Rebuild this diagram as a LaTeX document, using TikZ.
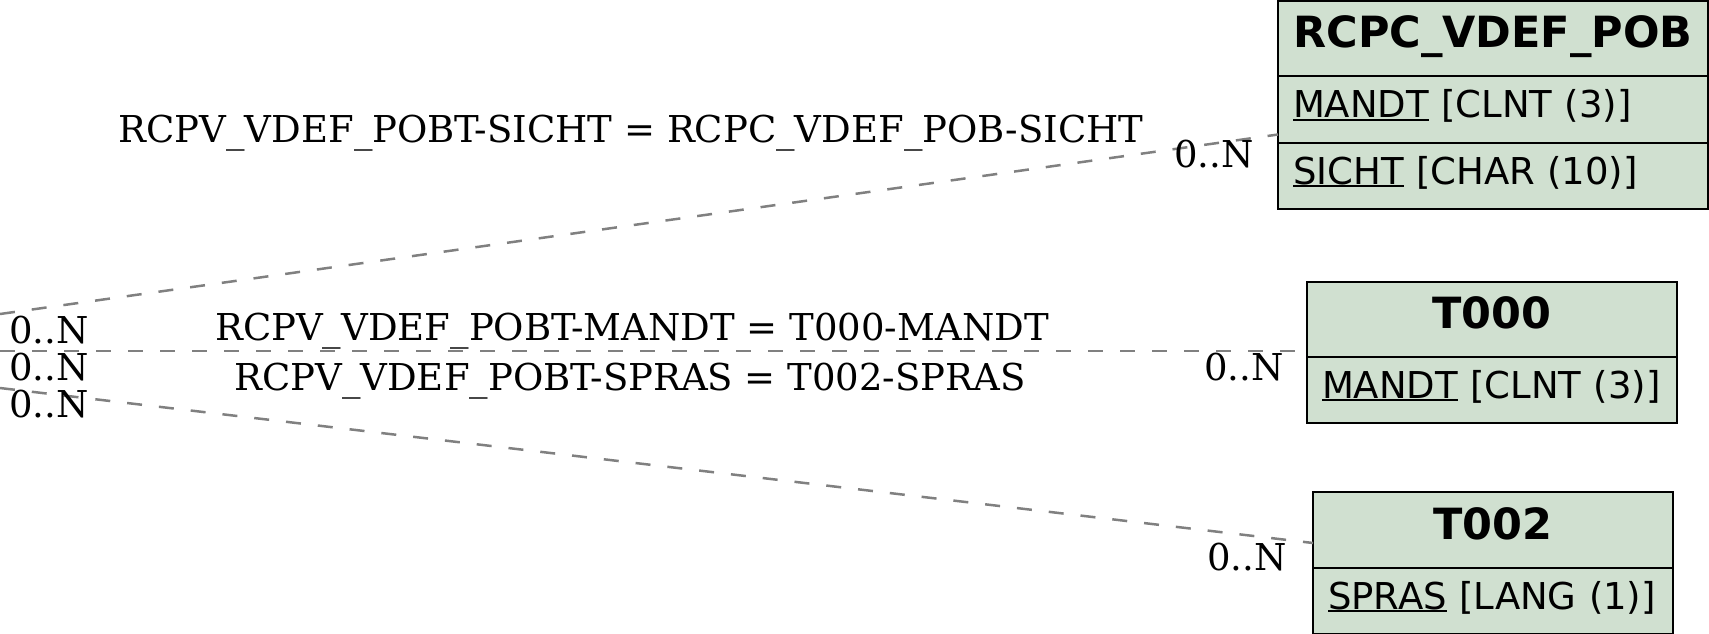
\documentclass[tikz,border=0pt]{standalone}
\usepackage{fontspec}
\newfontfamily\tblfont{DejaVu Sans}
\newfontfamily\relfont{DejaVu Serif}
\definecolor{tblGreen}{RGB}{208,224,208}
\definecolor{relGray}{RGB}{128,128,128}
\usetikzlibrary{positioning}
\newsavebox{\keybox}
\newcommand{\keyfield}[1]{\sbox{\keybox}{#1}\rlap{\rule[-3pt]{\wd\keybox}{2pt}}\usebox{\keybox}}

\begin{document}
\begin{tikzpicture}[x=1pt,y=-1pt,
    tblhead/.style={draw=black,line width=2.5pt,fill=tblGreen,inner sep=0pt,outer sep=0pt,
      font=\tblfont\fontsize{43}{50}\selectfont\bfseries,text height=24pt,text depth=6pt,
      minimum height=75pt,anchor=north west},
    tblrow/.style={draw=black,line width=2.5pt,fill=tblGreen,inner xsep=15pt,inner ysep=0pt,outer sep=0pt,
      font=\tblfont\fontsize{37}{44}\selectfont,text height=22pt,text depth=6pt,
      minimum height=66pt,align=left},
    rel/.style={draw=relGray,line width=2.5pt,dash pattern=on 15pt off 17pt},
    relname/.style={font=\relfont\fontsize{37}{44}\selectfont,inner sep=0pt,anchor=base},
    card/.style={font=\relfont\fontsize{37}{44}\selectfont,inner sep=0pt,anchor=base west}]
    \useasboundingbox (0,0) rectangle (1709,633);

    \node[tblhead,minimum width=430pt] (rcpcH) at (1278,1) {RCPC\_VDEF\_POB};
    \node[tblrow,text width=400pt,minimum height=67pt,below=0pt of rcpcH] (rcpcM) {\keyfield{MANDT} [CLNT (3)]};
    \node[tblrow,text width=400pt,below=0pt of rcpcM] (rcpcS) {\keyfield{SICHT} [CHAR (10)]};

    \node[tblhead,minimum width=370pt] (t000H) at (1307,282) {T000};
    \node[tblrow,text width=340pt,below=0pt of t000H] (t000M) {\keyfield{MANDT} [CLNT (3)]};

    \node[tblhead,minimum width=360pt,minimum height=76pt] (t002H) at (1313,492) {T002};
    \node[tblrow,text width=330pt,below=0pt of t002H] (t002S) {\keyfield{SPRAS} [LANG (1)]};

    \coordinate (pobtA) at (0,314);
    \coordinate (pobtB) at (0,351);
    \coordinate (pobtC) at (0,388);
    \coordinate (rcpcIn) at ([yshift=-25pt]rcpcM.west);
    \coordinate (t002In) at ([yshift=-13pt]t002H.west);

    \draw[rel] (pobtA) -- (rcpcIn);
    \draw[rel] (pobtB) -- (t000H.west |- pobtB);
    \draw[rel] (pobtC) -- (t002In);

    \node[relname] (sichtRel) at (631,142) {RCPV\_VDEF\_POBT-SICHT = RCPC\_VDEF\_POB-SICHT};
    \node[relname] (mandtRel) at (632,340) {RCPV\_VDEF\_POBT-MANDT = T000-MANDT};
    \node[relname] (sprasRel) at (630,390) {RCPV\_VDEF\_POBT-SPRAS = T002-SPRAS};

    \node[card] (cardA) at (9,343) {0..N};
    \node[card] (cardB) at (9,380) {0..N};
    \node[card] (cardC) at (9,417) {0..N};
    \node[card] (cardR) at (1174,167) {0..N};
    \node[card] (cardT0) at (1204,380) {0..N};
    \node[card] (cardT2) at (1207,570) {0..N};
\end{tikzpicture}
\end{document}
